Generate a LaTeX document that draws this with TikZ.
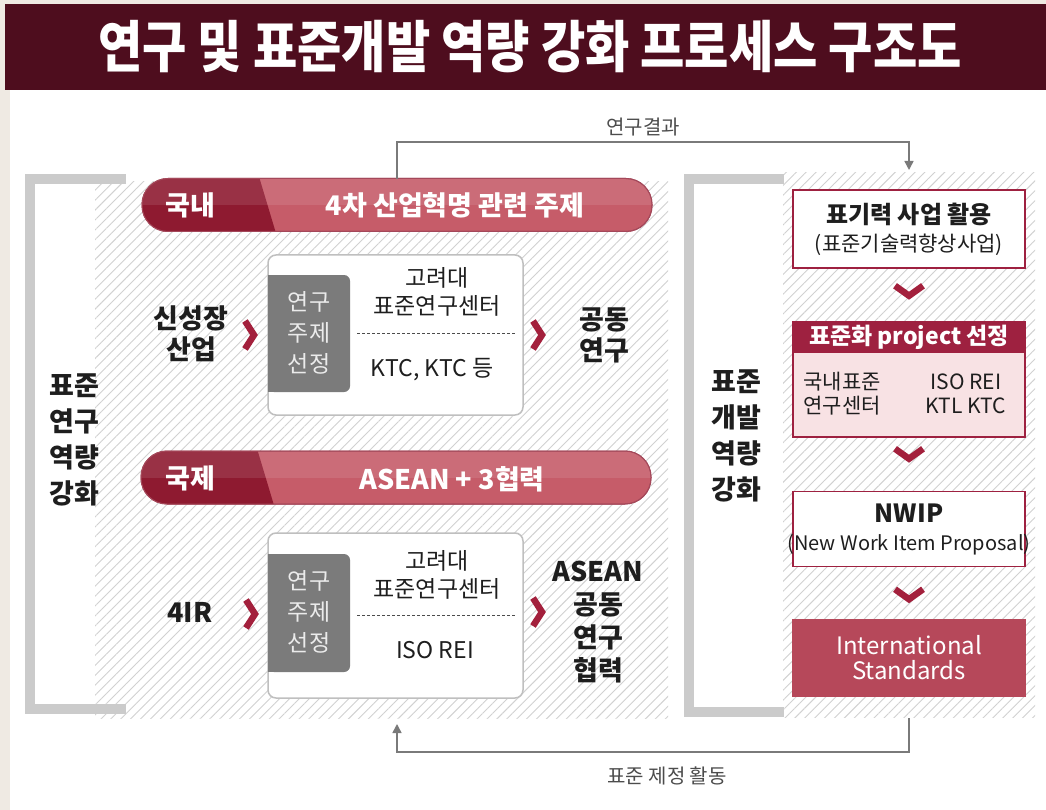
\documentclass[tikz,border=0pt]{standalone}
\usepackage{fontspec}
\setmainfont{Noto Sans CJK KR}
\usetikzlibrary{patterns.meta,arrows.meta,calc}
\definecolor{titlebg}{HTML}{4E0D1E}
\definecolor{deepred}{HTML}{8E1A30}
\definecolor{pillred}{HTML}{C65C69}
\definecolor{chev}{HTML}{A3203C}
\definecolor{boxred}{HTML}{9E2140}
\definecolor{stdred}{HTML}{B6485A}
\definecolor{pinkbg}{HTML}{F8E2E4}
\definecolor{beige}{HTML}{EFEAE3}
\definecolor{tabgray}{HTML}{7B7B7B}
\definecolor{brgray}{HTML}{CBCBCB}
\definecolor{txt}{HTML}{1E1E1E}
\definecolor{linegray}{HTML}{7A7A7A}
\newcommand{\fs}[1]{\fontsize{#1}{#1}\selectfont}
\tikzset{
  hatch/.style={pattern={Lines[angle=45,distance=7pt,line width=0.9pt]},pattern color=black!18},
  bracket/.style={draw=brgray,line width=10pt,line join=miter},
  pill/.style={draw=deepred!80,line width=1pt,fill=pillred,rounded corners=26pt,minimum width=510pt,minimum height=53pt,inner sep=0pt},
  pilltxt/.style={text=white,font=\bfseries\fs{27},inner sep=0pt},
  wbox/.style={draw=black!25,line width=1.5pt,fill=white,rounded corners=8pt,minimum width=255pt,inner sep=0pt},
  tab/.style={fill=tabgray,rounded corners=6pt,minimum width=82pt,inner sep=0pt},
  tabtxt/.style={text=black!8,font=\fs{23},align=center,inner sep=0pt},
  btxt/.style={text=txt,font=\bfseries\fs{27},align=center,inner sep=0pt},
  ntxt/.style={text=txt,font=\fs{23},align=center,inner sep=0pt},
  chevR/.style={draw=chev,line width=6.5pt,line join=miter,line cap=butt},
  chevD/.style={draw=chev,line width=6.5pt,line join=miter,line cap=butt},
  rbox/.style={draw=boxred,line width=1.5pt,fill=white,minimum width=232pt,inner sep=0pt},
  flow/.style={draw=linegray,line width=1.5pt},
  flowarrow/.style={flow,-{Triangle[length=9pt,width=9pt]}}
}
\begin{document}
\begin{tikzpicture}[x=1pt,y=-1pt]
\useasboundingbox (0,0) rectangle (1046,810);
% page background
\fill[beige] (0,0) rectangle (1046,810);
\fill[white] (10,90) rectangle (1046,810);
% title
\fill[titlebg] (5,4) rectangle (1046,90);
\node[text=white,font=\bfseries\fs{56},inner sep=0pt] (title) at (530,47) {\scalebox{0.86}[1]{연구 및 표준개발 역량 강화 프로세스 구조도}};

% hatched panels
\path[hatch] (95,182) rectangle (668,718);
\path[hatch] (783,173) rectangle (1035,717);
% brackets
\draw[bracket] (126,179) -- (30,179) -- (30,709) -- (126,709);
\draw[bracket] (784,179) -- (689,179) -- (689,712) -- (784,712);

% left label
\node[btxt,align=center] (leftlbl) at (74,440) {표준\\[9pt]연구\\[9pt]역량\\[9pt]강화};
% right label
\node[btxt,align=center] (rightlbl) at (736,436) {표준\\[9pt]개발\\[9pt]역량\\[9pt]강화};

% ---------- upper pill ----------
\node[pill] (pill1) at (397,205) {};
\begin{scope}
  \clip[rounded corners=26pt] (142,178.5) rectangle (652,231.5);
  \fill[deepred] (130,170) -- (257,170) -- (278,240) -- (130,240) -- cycle;
  \fill[white,opacity=0.10] (130,170) rectangle (660,205);
\end{scope}
\draw[deepred!80,line width=1pt,rounded corners=26pt] (142,178.5) rectangle (652,231.5);
\node[pilltxt] (dom) at (190,205) {국내};
\node[pilltxt] (domtopic) at (455,205) {4차 산업혁명 관련 주제};

% upper white box
\node[wbox,minimum height=160pt] (box1) at (395.5,335) {};
\node[tab,minimum height=117pt] (tab1) at (309,333.5) {};
\fill[tabgray] (268,275) rectangle (280,392);
\node[tabtxt] (tab1t) at (309,333) {연구\\[8pt]주제\\[8pt]선정};
\node[ntxt] (ku1) at (437,278) {고려대};
\node[ntxt] (ku1b) at (437,306) {표준연구센터};
\draw[black!70,line width=1pt,dash pattern=on 3pt off 2pt] (357,333) -- (515,333);
\node[ntxt] (ktc) at (432,370) {KTC, KTC 등};
\node[btxt] (newind) at (191,334) {신성장\\[4pt]산업};
\node[btxt] (joint) at (604,335) {공동\\[4pt]연구};
\draw[chevR] (245,321) -- (254,335) -- (245,349);
\draw[chevR] (533,321) -- (542,335) -- (533,349);

% ---------- lower pill ----------
\node[pill] (pill2) at (396,477.5) {};
\begin{scope}
  \clip[rounded corners=26pt] (141,451) rectangle (651,504);
  \fill[deepred] (130,442) -- (255,442) -- (276,512) -- (130,512) -- cycle;
  \fill[white,opacity=0.10] (130,442) rectangle (660,477.5);
\end{scope}
\draw[deepred!80,line width=1pt,rounded corners=26pt] (141,451) rectangle (651,504);
\node[pilltxt] (intl) at (190,478) {국제};
\node[pilltxt] (asean3) at (452,479) {ASEAN + 3협력};

% lower white box
\node[wbox,minimum height=165pt] (box2) at (395.5,615.5) {};
\node[tab,minimum height=118pt] (tab2) at (309,613) {};
\fill[tabgray] (268,554) rectangle (280,672);
\node[tabtxt] (tab2t) at (309,612) {연구\\[8pt]주제\\[8pt]선정};
\node[ntxt] (ku2) at (437,561) {고려대};
\node[ntxt] (ku2b) at (437,589) {표준연구센터};
\draw[black!70,line width=1pt,dash pattern=on 3pt off 2pt] (357,615) -- (515,615);
\node[ntxt] (isorei) at (435,650) {ISO REI};
\node[btxt] (fourir) at (190,612) {4IR};
\node[btxt] (aseanjoint) at (598,622) {ASEAN\\[6pt]공동\\[6pt]연구\\[6pt]협력};
\draw[chevR] (246,600) -- (255,614) -- (246,628);
\draw[chevR] (533,598) -- (542,612) -- (533,626);

% ---------- right flow ----------
\node[rbox,minimum height=78pt] (r1) at (909,229) {};
\node[text=txt,font=\bfseries\fs{24},inner sep=0pt] (r1a) at (909,214) {표기력 사업 활용};
\node[text=txt,font=\fs{21},inner sep=0pt] (r1b) at (909,245) {(표준기술력향상사업)};

\node[rbox,fill=pinkbg,minimum height=115pt] (r2) at (909,379.5) {};
\node[fill=boxred,minimum width=233.5pt,minimum height=31pt,inner sep=0pt] (r2h) at (909,337.5) {};
\node[text=white,font=\bfseries\fs{23},inner sep=0pt] (r2ht) at (909,337) {표준화 project 선정};
\node[ntxt,font=\fs{21}] (r2l) at (842,394) {국내표준\\[3pt]연구센터};
\node[ntxt,font=\fs{21}] (r2r) at (966,394) {ISO REI\\[3pt]KTL KTC};

\node[rbox,minimum height=75pt] (r3) at (909,529) {};
\node[text=txt,font=\bfseries\fs{25},inner sep=0pt] (r3a) at (909,513) {NWIP};
\node[text=txt,font=\fs{20},inner sep=0pt] (r3b) at (909,545) {(New Work Item Proposal)};

\node[rbox,fill=stdred,draw=stdred,minimum height=77pt] (r4) at (909,658) {};
\node[text=white,font=\fs{24},align=center,inner sep=0pt] (r4t) at (909,658) {International\\[1pt]Standards};

\draw[chevD] ($(r1.south)+(-14,17)$) -- ($(r1.south)+(0,27)$) -- ($(r1.south)+(14,17)$);
\draw[chevD] ($(r2.south)+(-14,11)$) -- ($(r2.south)+(0,21)$) -- ($(r2.south)+(14,11)$);
\draw[chevD] ($(r3.south)+(-14,22)$) -- ($(r3.south)+(0,32)$) -- ($(r3.south)+(14,22)$);

% ---------- feedback connectors ----------
\coordinate (resstart) at (397,179);
\coordinate (resend) at (909,170);
\coordinate (stdstart) at (909,718);
\coordinate (stdend) at (397,724);
\draw[flowarrow] (resstart) -- (397,142) -- (909,142) -- (resend);
\draw[flowarrow] (stdstart) -- (909,752) -- (397,752) -- (stdend);
\node[text=black!70,font=\fs{20},inner sep=0pt] (reslbl) at (643,127) {연구결과};
\node[text=black!70,font=\fs{20},inner sep=0pt] (stdlbl) at (667,776) {표준 제정 활동};
\end{tikzpicture}
\end{document}
